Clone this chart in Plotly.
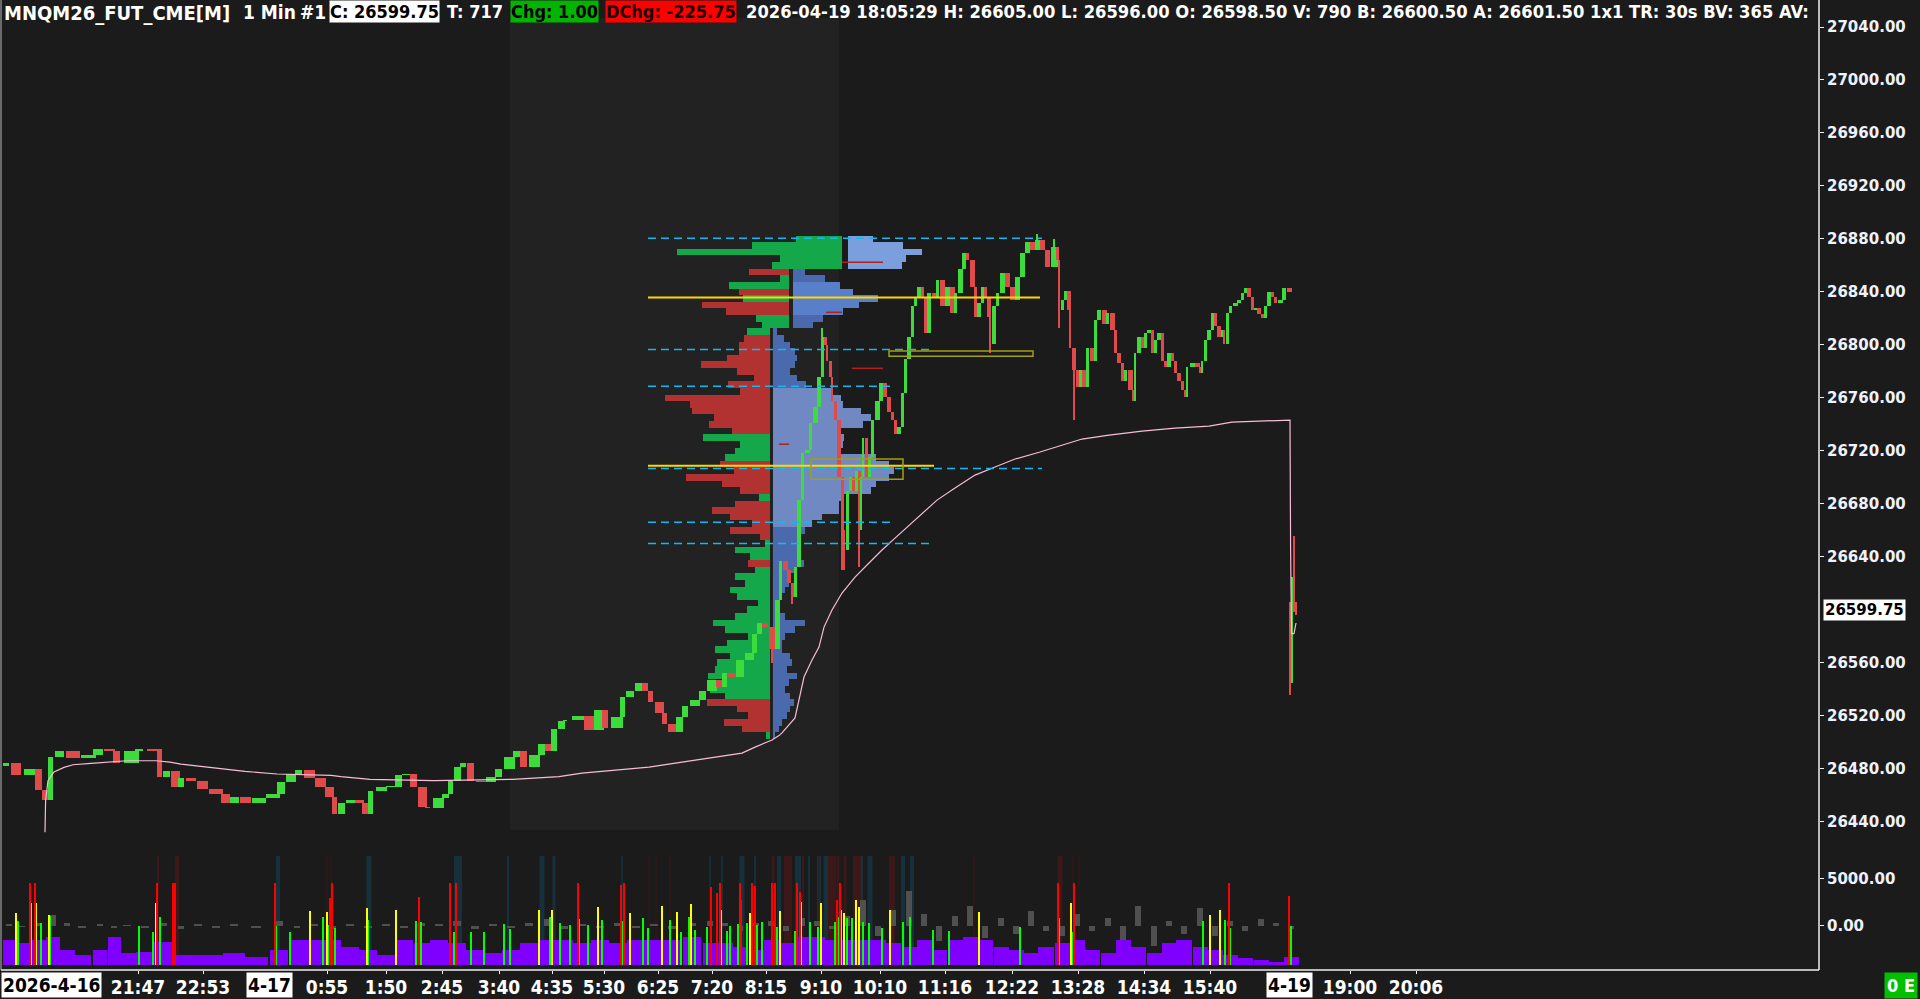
import plotly.graph_objects as go

# ---------------- DATA ----------------
# 1-min bars (bar index ~ pixel column), closes
bar_x = [4, 14, 29, 36, 43, 48, 57, 71, 86, 96, 107, 114, 129, 137, 152, 157, 164, 173, 179, 189, 200, 214, 223, 232, 243, 257, 271, 279, 289, 296, 307, 318, 327, 332, 339, 348, 357, 363, 368, 379, 389, 396, 404, 411, 420, 425, 436, 443, 448, 455, 461, 468, 479, 489, 496, 507, 514, 521, 532, 539, 546, 552, 559, 563, 577, 587, 597, 603, 615, 620, 628, 637, 643, 648, 657, 662, 670, 677, 683, 693, 700, 710, 717, 722, 730, 738, 747, 752, 757, 763, 770, 775, 778, 783, 787, 790, 793, 797, 800, 805, 808, 813, 817, 820, 823, 825, 828, 830, 833, 837, 840, 842, 845, 848, 851, 854, 857, 859, 861, 864, 867, 870, 875, 879, 883, 887, 890, 893, 897, 900, 903, 907, 910, 913, 917, 920, 923, 927, 932, 935, 940, 945, 950, 953, 958, 962, 965, 970, 973, 977, 980, 983, 987, 988, 992, 995, 1000, 1005, 1010, 1015, 1020, 1025, 1030, 1035, 1040, 1045, 1052, 1055, 1057, 1060, 1063, 1067, 1068, 1072, 1075, 1078, 1082, 1085, 1090, 1093, 1097, 1102, 1105, 1110, 1113, 1117, 1120, 1123, 1128, 1131, 1133, 1137, 1140, 1143, 1147, 1150, 1153, 1157, 1160, 1163, 1167, 1170, 1173, 1177, 1180, 1183, 1185, 1190, 1195, 1198, 1200, 1203, 1207, 1210, 1213, 1217, 1220, 1222, 1225, 1228, 1233, 1237, 1240, 1243, 1247, 1250, 1253, 1257, 1260, 1263, 1267, 1270, 1273, 1278, 1282, 1287]
bar_close = [26484, 26475, 26480, 26464, 26456, 26489, 26493, 26488, 26490, 26495, 26493, 26484, 26493, 26495, 26493, 26474, 26478, 26466, 26473, 26471, 26465, 26461, 26454, 26459, 26454, 26458, 26461, 26470, 26476, 26479, 26473, 26466, 26459, 26446, 26454, 26456, 26454, 26446, 26463, 26466, 26466, 26475, 26476, 26466, 26451, 26450, 26458, 26461, 26471, 26481, 26484, 26471, 26470, 26474, 26480, 26489, 26493, 26481, 26490, 26499, 26493, 26510, 26516, 26517, 26520, 26509, 26524, 26511, 26519, 26534, 26539, 26545, 26539, 26530, 26522, 26514, 26508, 26519, 26527, 26532, 26539, 26547, 26542, 26552, 26549, 26562, 26567, 26582, 26590, 26587, 26570, 26607, 26637, 26630, 26620, 26610, 26632, 26683, 26718, 26721, 26741, 26753, 26776, 26806, 26800, 26788, 26776, 26758, 26743, 26700, 26660, 26645, 26690, 26700, 26690, 26705, 26660, 26700, 26730, 26700, 26715, 26743, 26758, 26771, 26761, 26749, 26743, 26733, 26738, 26764, 26789, 26806, 26829, 26836, 26844, 26836, 26809, 26839, 26836, 26849, 26829, 26844, 26824, 26839, 26857, 26869, 26864, 26844, 26821, 26832, 26844, 26836, 26821, 26801, 26829, 26839, 26854, 26844, 26834, 26851, 26869, 26878, 26872, 26879, 26872, 26859, 26874, 26864, 26826, 26834, 26841, 26826, 26798, 26781, 26768, 26781, 26768, 26798, 26788, 26819, 26826, 26816, 26824, 26811, 26794, 26786, 26773, 26781, 26766, 26758, 26794, 26806, 26798, 26809, 26811, 26794, 26804, 26809, 26788, 26783, 26794, 26788, 26779, 26773, 26766, 26761, 26783, 26786, 26783, 26779, 26788, 26804, 26811, 26824, 26814, 26806, 26811, 26801, 26824, 26829, 26832, 26834, 26839, 26843, 26836, 26826, 26828, 26823, 26820, 26829, 26840, 26836, 26832, 26834, 26843, 26840]
first_open = 26482
wick_high = {820: 26813, 1035: 26884, 1052: 26880}
wick_low = {770: 26560, 790: 26604, 840: 26630, 842: 26630, 857: 26632, 988: 26794, 1057: 26813, 1072: 26743}

# 4-19 session bars
s2_x = [1288, 1290, 1292, 1294]
s2_open = [26600, 26550, 26620, 26604]
s2_high = [26606, 26625, 26656, 26606]
s2_low = [26536, 26545, 26598, 26596]
s2_close = [26550, 26620, 26604, 26599.75]

# VWAP-like pink line
vwap_x = [43, 43.6, 46, 52, 62, 71, 89, 107, 125, 154, 168, 179, 196, 214, 243, 275, 329, 339, 368, 432, 511, 536, 557, 580, 613, 647, 680, 713, 740, 753, 770, 777, 780, 793, 797, 802, 810, 817, 822, 830, 840, 853, 867, 880, 893, 910, 927, 935, 953, 973, 993, 1013, 1038, 1060, 1080, 1107, 1140, 1173, 1207, 1230, 1257, 1288, 1288.6, 1289.5, 1292, 1294]
vwap_p = [26432, 26456, 26471, 26477.5, 26481, 26483, 26484, 26485, 26486, 26486, 26485, 26483.5, 26482, 26480.5, 26478, 26476, 26475, 26474, 26472, 26471, 26472, 26473, 26474, 26476.7, 26479, 26481.2, 26485, 26488.8, 26491.8, 26496.3, 26501.6, 26505, 26507, 26518.3, 26531.8, 26549.2, 26562, 26571.8, 26586.9, 26599.8, 26612.6, 26624.7, 26635.3, 26645.1, 26654.1, 26665.5, 26676.8, 26682.8, 26691.9, 26701.7, 26707.8, 26713.8, 26719.1, 26724.4, 26728.9, 26731.9, 26734.9, 26737.2, 26738.7, 26741.7, 26742.5, 26743.2, 26645, 26582, 26582, 26590]

# Volume profiles (price rows, signed delta volume left, total volume right)
low_prices = [26505, 26510, 26515, 26520, 26525, 26530, 26535, 26540, 26545, 26550, 26555, 26560, 26565, 26570, 26575, 26580, 26585, 26590, 26595, 26600, 26605, 26610, 26615, 26620, 26625, 26630, 26635, 26640, 26645, 26650, 26655, 26660, 26665, 26670, 26675, 26680, 26685, 26690, 26695, 26700, 26705, 26710, 26715, 26720, 26725, 26730, 26735, 26740, 26745, 26750, 26755, 26760, 26765, 26770, 26775, 26780, 26785, 26790, 26795, 26800, 26805, 26810]
low_delta = [4, -28, -46, -22, -33, -63, 45, 60, 48, 62, 55, 53, 40, 55, 43, 22, 45, 57, 35, 23, 12, 33, 40, 25, 35, 15, -22, 20, 35, 5, -10, -40, -18, -40, -58, -35, 11, -30, -48, -84, -36, -50, 45, 35, 30, 67, -38, -61, -56, -78, -80, -105, -30, -42, -16, -33, -69, -43, -31, -31, -26, 23]
low_total = [2, 6, 9, 14, 17, 21, 17, 12, 16, 24, 14, 19, 17, 9, 9, 12, 22, 32, 12, 6, 6, 9, 12, 16, 16, 22, 31, 27, 27, 24, 24, 32, 39, 49, 66, 66, 70, 98, 103, 116, 121, 116, 103, 65, 70, 71, 68, 90, 98, 88, 70, 68, 59, 33, 24, 17, 22, 24, 22, 17, 11, 4]
low_va = (26662, 26768)
mid_prices = [26815, 26820, 26825, 26830, 26835, 26840, 26845, 26850, 26855]
mid_delta = [27, 33, -63, -87, 46, -50, 60, 9, -40]
mid_total = [20, 30, 50, 66, 85, 60, 47, 32, 12]
mid_va = (26822, 26848)
top_prices = [26860, 26865, 26870, 26875, 26880]
top_delta = [70, 62, 165, 90, 46]
top_total = [54, 58, 74, 55, 25]
top_va = (26857, 26885)
profile_anchor = {"low": (768, 771), "mid": (787, 791), "top": (840, 846)}

session_x = (508, 837)

# level lines
yellow_levels = [(26835.75, 646, 1038), (26708.75, 646, 932)]
cyan_levels = [(26880.5, 646, 1040), (26796.5, 646, 927), (26768.75, 646, 893), (26706.75, 646, 1040), (26666.0, 646, 892), (26650.0, 646, 928)]
red_levels = [(26862.3, 840, 881), (26782.3, 850, 881), (26824.6, 824, 840), (26725.0, 777, 787)]
olive_zones = [(887, 1031, 26791.4, 26795.4), (809, 901, 26698.5, 26713.8)]

# volume pane
vol_x = [7, 20, 36, 51, 65, 80, 98, 112, 125, 143, 161, 179, 196, 214, 232, 254, 277, 295, 312, 330, 348, 366, 384, 402, 420, 437, 455, 473, 491, 509, 527, 545, 562, 580, 598, 616, 634, 652, 670, 690, 708, 723, 738, 754, 769, 784, 800, 815, 830, 845, 861, 876, 891, 907, 922, 937, 953, 968, 983, 999, 1014, 1029, 1044, 1060, 1075, 1090, 1106, 1121, 1136, 1152, 1167, 1182, 1198, 1213, 1228, 1243, 1259, 1274, 1289]
vol_v = [625, 550, 625, 700, 375, 250, 375, 700, 300, 325, 575, 250, 250, 250, 300, 200, 375, 625, 625, 625, 450, 375, 250, 625, 550, 625, 550, 375, 300, 375, 550, 625, 625, 550, 625, 550, 625, 625, 625, 700, 550, 550, 450, 375, 625, 550, 700, 700, 625, 625, 625, 625, 550, 450, 625, 375, 625, 700, 625, 450, 375, 300, 450, 550, 625, 375, 300, 625, 450, 300, 550, 625, 450, 375, 250, 175, 125, 75, 200]
delta_x = vol_x
delta_v = [215, -110, 320, 1180, 320, -215, 215, -215, 110, -215, 320, -320, 215, -215, 215, -215, 540, -215, 215, -320, 215, -215, 215, -215, 320, 215, 540, -320, 215, -215, 320, 750, -320, 215, -215, 320, -215, 215, -320, 320, 540, 320, -540, 320, 540, -540, 860, 540, -320, 1070, 2790, -1070, 1720, 3760, 1290, -1610, 1070, 2150, -1290, 860, -860, 1610, -540, -1070, 1290, -540, 860, -2150, 2150, -2150, 540, -860, 1930, -1070, 540, -540, 750, 320, -320]

red_spike_x = [28, 33, 155, 171, 173, 273, 328, 330, 417, 448, 454, 576, 619, 622, 709, 715, 718, 738, 739, 750, 753, 770, 773, 795, 798, 835, 838, 1056, 1072, 1227, 1287]
red_spike_v = [2050, 2050, 2050, 2050, 2050, 2050, 1670, 2050, 1710, 2050, 2050, 2050, 2000, 2050, 1960, 1790, 2050, 2050, 1630, 2050, 1980, 2050, 2050, 2050, 1830, 1630, 2050, 2050, 2050, 2050, 1730]
yel_spike_x = [14, 29, 34, 47, 154, 308, 325, 365, 394, 537, 550, 596, 628, 660, 675, 689, 719, 748, 778, 799, 819, 839, 842, 854, 857, 888, 977, 1069, 1208, 1218]
yel_spike_v = [1300, 1550, 1550, 1250, 1550, 1350, 1330, 1420, 1380, 1380, 1380, 1450, 1300, 1480, 1330, 1530, 1380, 1300, 1350, 1580, 1550, 1380, 1300, 1630, 1450, 1380, 1330, 1550, 1250, 1380]
grn_spike_x = [16, 39, 48, 137, 151, 158, 274, 288, 321, 327, 333, 366, 414, 419, 452, 469, 482, 502, 508, 548, 558, 568, 577, 586, 600, 620, 641, 646, 668, 679, 687, 693, 705, 715, 725, 728, 736, 745, 755, 760, 775, 793, 808, 816, 833, 836, 845, 850, 861, 867, 880, 901, 908, 931, 947, 1018, 1057, 1070, 1201, 1223, 1228, 1289]
grn_spike_v = [1100, 1050, 1230, 980, 830, 1200, 980, 830, 1200, 1000, 920, 1130, 1100, 1080, 830, 830, 830, 1030, 900, 1200, 1050, 1000, 1150, 1000, 1130, 1100, 1180, 920, 1130, 830, 1200, 880, 950, 880, 860, 980, 1030, 1050, 1000, 1080, 950, 860, 1080, 950, 1080, 1200, 1180, 1180, 1080, 1050, 930, 1080, 1200, 880, 860, 950, 1180, 830, 1100, 1130, 930, 980]

teal_bands = [(276, 4), (367, 5), (456, 8), (506, 2), (540, 5), (552, 3), (620, 1.5), (708, 1.5), (720, 2), (740, 5), (753, 2), (777, 4), (796, 6), (807, 2), (817, 4), (824, 5), (860, 2), (868, 5), (901, 4), (910, 4)]
red_bands = [(156, 2), (175, 4), (325, 1), (329, 1), (647, 1), (654, 1), (668, 1), (771, 3), (786, 8), (801, 2), (817, 1), (830, 8), (836, 3), (843, 3), (855, 8), (890, 6), (972, 1), (1058, 5), (1071, 1), (1077, 1)]

price_ticks = [26440, 26480, 26520, 26560, 26640, 26680, 26720, 26760, 26800, 26840, 26880, 26920, 26960, 27000, 27040]
time_tick_x = [136, 201, 325, 384, 440, 497, 550, 602, 656, 710, 764, 819, 878, 943, 1010, 1076, 1142, 1208, 1348, 1414]
time_tick_text = ["21:47", "22:53", "0:55", "1:50", "2:45", "3:40", "4:35", "5:30", "6:25", "7:20", "8:15", "9:10", "10:10", "11:16", "12:22", "13:28", "14:34", "15:40", "19:00", "20:06"]
date_x = [49, 267, 1287]
date_text = ["2026-4-16", "4-17", "4-19"]

# header: (text, left pixel, background, text colour, font size)
header_items = [
    ("MNQM26_FUT_CME[M]", 3, None, "white", 20),
    ("1 Min", 242, None, "white", 19),
    ("#1", 299, None, "white", 19),
    ("C: 26599.75", 329, "#ffffff", "#000000", 18),
    ("T: 717", 446, None, "white", 18),
    ("Chg: 1.00", 510, "#00b400", "#000000", 18),
    ("DChg: -225.75", 605, "#ff0000", "#1a0000", 18),
    ("2026-04-19 18:05:29 H: 26605.00 L: 26596.00 O: 26598.50 V: 790 B: 26600.50 A: 26601.50 1x1 TR: 30s BV: 365 AV:",
     745, None, "white", 18.2),
]
last_price = 26599.75

# ---------------- STYLE ----------------
BG = "#1b1b1b"
UP = "#3ddc3d"
DN = "#e04a4a"
NARROW = "Liberation Sans Narrow, Arial Narrow, DejaVu Sans Condensed, sans-serif"
AXFONT = dict(family="DejaVu Sans, Verdana, sans-serif", size=15, color="#eef2ff", weight="bold")
PLOT_L, PLOT_W = 1, 1818


def px2paper(px):
    return (px - PLOT_L) / PLOT_W


fig = go.Figure()

# --- volume profiles ---
def add_profile(prices, delta, total, anchors, va, light_blue, dark_blue):
    a_left, a_right = anchors
    fig.add_trace(go.Bar(
        orientation="h", y=prices, x=[abs(v) for v in delta],
        base=[a_left - abs(v) for v in delta], width=5,
        marker=dict(color=["#14a84a" if v > 0 else "#b23232" for v in delta], line_width=0),
        hoverinfo="skip", xaxis="x", yaxis="y"))
    fig.add_trace(go.Bar(
        orientation="h", y=prices, x=total, base=a_right, width=5,
        marker=dict(color=[light_blue if va[0] <= p <= va[1] else dark_blue for p in prices], line_width=0),
        hoverinfo="skip", xaxis="x", yaxis="y"))


add_profile(low_prices, low_delta, low_total, profile_anchor["low"], low_va, "#7089c2", "#4b6aad")
add_profile(mid_prices, mid_delta, mid_total, profile_anchor["mid"], mid_va, "#5a7fca", "#4b6aad")
add_profile(top_prices, top_delta, top_total, profile_anchor["top"], top_va, "#7b9fdc", "#6a8cd0")

# --- candles (bars for bodies / wicks) ---
opens = [first_open] + bar_close[:-1]
highs, lows, cols, widths = [], [], [], []
prev_x = 0
for i, (x, o, c) in enumerate(zip(bar_x, opens, bar_close)):
    highs.append(wick_high.get(x, max(o, c)))
    lows.append(wick_low.get(x, min(o, c)))
    cols.append(UP if c >= o else DN)
    gap = x - prev_x if i > 0 else 6
    widths.append(min(15, max(1.6, 1.0 * gap)))
    prev_x = x

all_x = bar_x + s2_x
all_o = opens + s2_open
all_c = bar_close + s2_close
all_h = highs + s2_high
all_l = lows + s2_low
all_col = cols + [UP if c >= o else DN for o, c in zip(s2_open, s2_close)]
all_w = widths + [2.2] * len(s2_x)

fig.add_trace(go.Bar(
    x=all_x, base=all_l, y=[h - l for h, l in zip(all_h, all_l)], width=[1.2] * len(all_x),
    marker=dict(color=all_col, line_width=0), hoverinfo="skip", yaxis="y"))
fig.add_trace(go.Bar(
    x=all_x, base=[min(o, c) for o, c in zip(all_o, all_c)],
    y=[max(abs(c - o), 1.0) for o, c in zip(all_o, all_c)], width=all_w,
    marker=dict(color=all_col, line_width=0), hoverinfo="skip", yaxis="y"))

# --- VWAP ---
fig.add_trace(go.Scatter(x=vwap_x, y=vwap_p, mode="lines",
                         line=dict(color="#f8bcd8", width=1.2), hoverinfo="skip", yaxis="y"))

# --- volume pane ---
dw = [vol_x[i + 1] - vol_x[i] if i + 1 < len(vol_x) else vol_x[i] - vol_x[i - 1] for i in range(len(vol_x))]
fig.add_trace(go.Bar(x=delta_x, y=delta_v, width=[w * 0.4 for w in dw], marker=dict(color="#505050", line_width=0),
                     hoverinfo="skip", yaxis="y2"))
fig.add_trace(go.Bar(x=vol_x, y=vol_v, width=dw, marker=dict(color="#8000ff", line_width=0),
                     hoverinfo="skip", yaxis="y3"))
for xs, vs, col in [(grn_spike_x, grn_spike_v, "#00ff00"), (yel_spike_x, yel_spike_v, "#ffff00"),
                    (red_spike_x, red_spike_v, "#ff0000")]:
    fig.add_trace(go.Bar(x=xs, y=vs, width=2, marker=dict(color=col, line_width=0),
                         hoverinfo="skip", yaxis="y3"))

# ---------------- SHAPES ----------------
shapes = []
shapes.append(dict(type="rect", xref="x", yref="y", x0=session_x[0], x1=session_x[1], y0=26433.7, y1=27046.8,
                   fillcolor="#222222", line_width=0, layer="below"))
for cx, w in teal_bands:
    shapes.append(dict(type="rect", xref="x", yref="y2 domain", x0=cx - w / 2, x1=cx + w / 2, y0=0.03, y1=0.988,
                       fillcolor="#16303c", line_width=0, layer="below"))
for cx, w in red_bands:
    shapes.append(dict(type="rect", xref="x", yref="y2 domain", x0=cx - w / 2, x1=cx + w / 2, y0=0.03, y1=0.988,
                       fillcolor="#3c1818", line_width=0, layer="below"))
for p, x0, x1 in cyan_levels:
    shapes.append(dict(type="line", xref="x", yref="y", x0=x0, x1=x1, y0=p, y1=p,
                       line=dict(color="#12b8f0", width=1.5, dash="8px,5px")))
for p, x0, x1 in red_levels:
    shapes.append(dict(type="line", xref="x", yref="y", x0=x0, x1=x1, y0=p, y1=p,
                       line=dict(color="#b42020", width=1.5)))
for p, x0, x1 in yellow_levels:
    shapes.append(dict(type="line", xref="x", yref="y", x0=x0, x1=x1, y0=p, y1=p,
                       line=dict(color="#ffd700", width=2)))
for x0, x1, y0, y1 in olive_zones:
    shapes.append(dict(type="rect", xref="x", yref="y", x0=x0, x1=x1, y0=y0, y1=y1,
                       line=dict(color="#a0a010", width=1.5), fillcolor="rgba(0,0,0,0)"))
# frame
shapes.append(dict(type="line", xref="paper", yref="paper", x0=1, x1=1, y0=0, y1=1, line=dict(color="#f0f0f0", width=1.5)))
shapes.append(dict(type="line", xref="paper", yref="paper", x0=0, x1=1, y0=0, y1=0, line=dict(color="#f0f0f0", width=1.5)))
shapes.append(dict(type="line", xref="paper", yref="paper", x0=0, x1=0, y0=0, y1=1, line=dict(color="#bbbbbb", width=1)))

# ---------------- ANNOTATIONS ----------------
ann = []
for text, px, bg, fg, fs in header_items:
    ann.append(dict(text=text, xref="paper", yref="paper", x=px2paper(px), y=1.0, xanchor="left", yanchor="top",
                    showarrow=False, bgcolor=bg if bg else "rgba(0,0,0,0)", borderpad=0,
                    font=dict(family=NARROW, size=fs, color=fg, weight="bold")))
for x, t in zip(date_x, date_text):
    ann.append(dict(text=t, xref="x", yref="paper", x=x, y=-0.0155, xanchor="center", yanchor="middle",
                    showarrow=False, bgcolor="#ffffff", borderpad=1,
                    font=dict(family=NARROW, size=19, color="#000000", weight="bold")))
ann.append(dict(text=f"{last_price:.2f}", xref="paper", yref="y", x=px2paper(1823), y=last_price, xanchor="left",
                yanchor="middle", showarrow=False, bgcolor="#ffffff", borderpad=1,
                font=dict(family="DejaVu Sans, Verdana, sans-serif", size=15, color="#000000", weight="bold")))
ann.append(dict(text="0 E", xref="paper", yref="paper", x=px2paper(1918), y=-0.0155, xanchor="right",
                yanchor="middle", showarrow=False, bgcolor="#00c000", borderpad=2,
                font=dict(family=NARROW, size=18, color="#ffffff", weight="bold")))

fig.update_layout(
    width=1920, height=999, autosize=False,
    margin=dict(l=1, r=101, t=0, b=29, pad=0, autoexpand=False),
    paper_bgcolor=BG, plot_bgcolor=BG,
    barmode="overlay", bargap=0, showlegend=False, hovermode=False,
    shapes=shapes, annotations=ann,
    xaxis=dict(range=[-1, 1817], showgrid=False, zeroline=False, anchor="y2", automargin=False,
               tickmode="array", tickvals=time_tick_x, ticktext=time_tick_text,
               ticks="outside", ticklen=3, tickcolor="#f0f0f0", ticklabelstandoff=-3,
               tickfont=dict(family=NARROW, size=19, color="#ffffff", weight="bold")),
    yaxis=dict(domain=[0.1237, 1], range=[26418.6, 27060.4], side="right", anchor="x", automargin=False,
               showgrid=False, zeroline=False, tickmode="array", tickvals=price_ticks,
               ticktext=[f"{p:.2f}" for p in price_ticks], ticks="outside", ticklen=4,
               tickcolor="#f0f0f0", tickfont=AXFONT),
    yaxis2=dict(domain=[0, 0.119], range=[-4764, 7618], side="right", anchor="x", automargin=False,
                showgrid=False, zeroline=False, tickmode="array", tickvals=[0, 5000],
                ticktext=["0.00", "5000.00"], ticks="outside", ticklen=4,
                tickcolor="#f0f0f0", tickfont=AXFONT),
    yaxis3=dict(overlaying="y2", range=[-125, 2760], visible=False, anchor="x", automargin=False),
)

fig.write_html("out.html", config={"displayModeBar": False, "staticPlot": True},
               post_script="document.body.style.margin='0';document.body.style.overflow='hidden';")
